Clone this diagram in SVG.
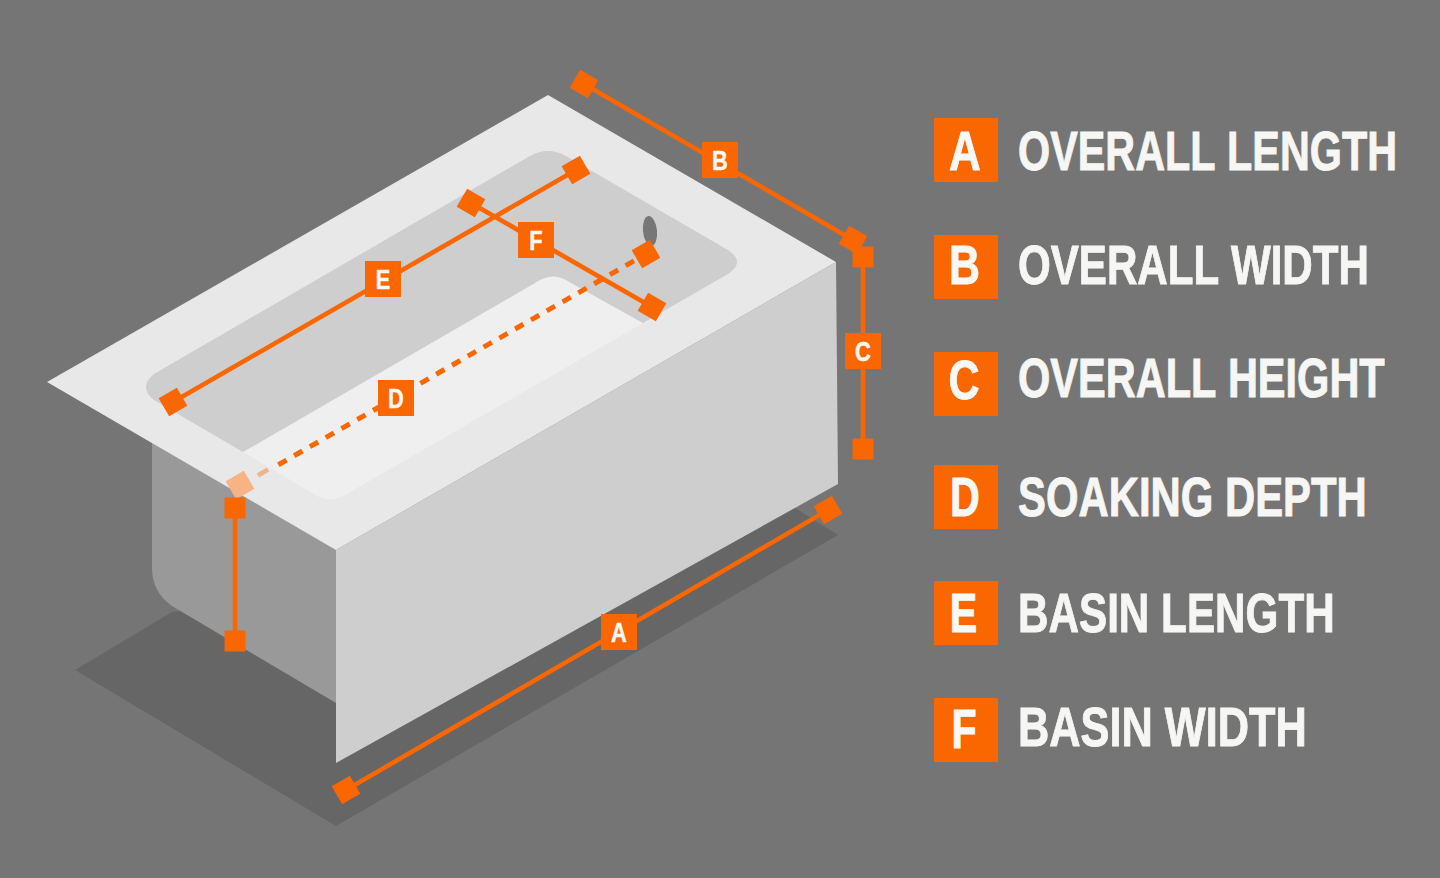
<svg xmlns="http://www.w3.org/2000/svg" width="1440" height="878" viewBox="0 0 1440 878">
<defs>
<style>
.ln{stroke:#fa6600;stroke-width:4.6;fill:none}
.dash{stroke-width:5;stroke-dasharray:9.500 8.700;stroke-dashoffset:4.300}
.or{fill:#fa6600}
.lab{font-family:"Liberation Sans",Arial,sans-serif;font-weight:700;fill:#f8f8f6;stroke:#f8f8f6;stroke-width:.5;text-anchor:middle;font-size:28px}
.b{font-size:55px;stroke-width:.9}
.t{font-family:"Liberation Sans",Arial,sans-serif;font-weight:700;font-size:55px;fill:#f6f6f4;stroke:#f6f6f4;stroke-width:.9;font-kerning:none}
</style>
<rect id="m" x="-10.5" y="-10.5" width="21" height="21" class="or"/>
</defs>
<rect width="1440" height="878" fill="#757575"/>
<g id="tub">
<path d="M172 612L75 670L336 826L838 535L790 505Z" fill="#666"/>
<path d="M152 440V568Q152 592 172 606L336 703V548Z" fill="#999"/>
<path d="M336 550L836 262L838 484L336 763Z" fill="#cecece"/>
<path d="M548 95L836 262L336 550L47 382Z" fill="#e8e8e8"/>
<path d="M154 374L530 156Q548 146 566 156L728 250Q746 262 728 274L643 323L243 452L154 400Q138 387 154 374Z" fill="#cecece"/>
<path d="M243 452L535 283Q553 270 571 283L643 323L345 495Q327 505 309 491Z" fill="#efefef"/>
<ellipse cx="650" cy="231" rx="7" ry="15" transform="rotate(-6 650 231)" fill="#777"/>
</g>
<g id="connectors">
<path class="ln" d="M346 790L828 510"/>
<path class="ln" d="M584 84L853 240"/>
<path class="ln" d="M863 257V449"/>
<path class="ln" d="M235 508V641"/>
<path class="ln" d="M173 402L576 170"/>
<path class="ln" d="M471 203L652 307"/>
<path class="ln dash" d="M646 254L271 469"/>
<path class="ln" d="M268 469.500L258 475.500" stroke-width="4" opacity=".4"/>
</g>
<g id="marker-A"><use href="#m" transform="translate(346 790) rotate(-30)"/><use href="#m" transform="translate(828 510) rotate(-30)"/><rect class="or" x="601" y="614" width="36" height="36"/><text class="lab" transform="translate(619 642) scale(.78 1)">A</text></g>
<g id="marker-B"><use href="#m" transform="translate(584 84) rotate(30)"/><use href="#m" transform="translate(853 240) rotate(30)"/><rect class="or" x="702" y="142" width="36" height="36"/><text class="lab" transform="translate(720 170) scale(.78 1)">B</text></g>
<g id="marker-C"><use href="#m" transform="translate(863 257)"/><use href="#m" transform="translate(863 449)"/><rect class="or" x="845" y="333" width="36" height="36"/><text class="lab" transform="translate(863 361) scale(.78 1)">C</text></g>
<g id="marker-D"><rect x="-10.500" y="-10.500" width="21" height="21" fill="#f8b385" transform="translate(240 485) rotate(-30)"/><use href="#m" transform="translate(646 254) rotate(-30)"/><use href="#m" transform="translate(235 508)"/><use href="#m" transform="translate(235 641)"/><rect class="or" x="378" y="380" width="36" height="36"/><text class="lab" transform="translate(396 408) scale(.78 1)">D</text></g>
<g id="marker-E"><use href="#m" transform="translate(173 402) rotate(-30)"/><use href="#m" transform="translate(576 170) rotate(-30)"/><rect class="or" x="365" y="261" width="36" height="36"/><text class="lab" transform="translate(383 289) scale(.78 1)">E</text></g>
<g id="marker-F"><use href="#m" transform="translate(471 203) rotate(30)"/><use href="#m" transform="translate(652 307) rotate(30)"/><rect class="or" x="518" y="222" width="36" height="36"/><text class="lab" transform="translate(536 250) scale(.78 1)">F</text></g>
<g id="legend-A"><rect class="or" x="934" y="118" width="64" height="64"/><text class="lab b" transform="translate(965 170) scale(.8 1)">A</text><text class="t" transform="translate(1018 170) scale(.752 1)">OVERALL LENGTH</text></g>
<g id="legend-B"><rect class="or" x="934" y="235" width="64" height="64"/><text class="lab b" transform="translate(964.500 284) scale(.78 1)">B</text><text class="t" transform="translate(1018 284) scale(.766 1)">OVERALL WIDTH</text></g>
<g id="legend-C"><rect class="or" x="934" y="352" width="64" height="64"/><text class="lab b" transform="translate(964 399) scale(.78 1)">C</text><text class="t" transform="translate(1018 397) scale(.755 1)">OVERALL HEIGHT</text></g>
<g id="legend-D"><rect class="or" x="934" y="465" width="64" height="64"/><text class="lab b" transform="translate(965 516) scale(.75 1)">D</text><text class="t" transform="translate(1018 516) scale(.761 1)">SOAKING DEPTH</text></g>
<g id="legend-E"><rect class="or" x="934" y="581" width="64" height="64"/><text class="lab b" transform="translate(963.500 632) scale(.75 1)">E</text><text class="t" transform="translate(1018 632) scale(.768 1)">BASIN LENGTH</text></g>
<g id="legend-F"><rect class="or" x="934" y="698" width="64" height="64"/><text class="lab b" transform="translate(964 748) scale(.75 1)">F</text><text class="t" transform="translate(1018 746) scale(.788 1)">BASIN WIDTH</text></g>
</svg>
